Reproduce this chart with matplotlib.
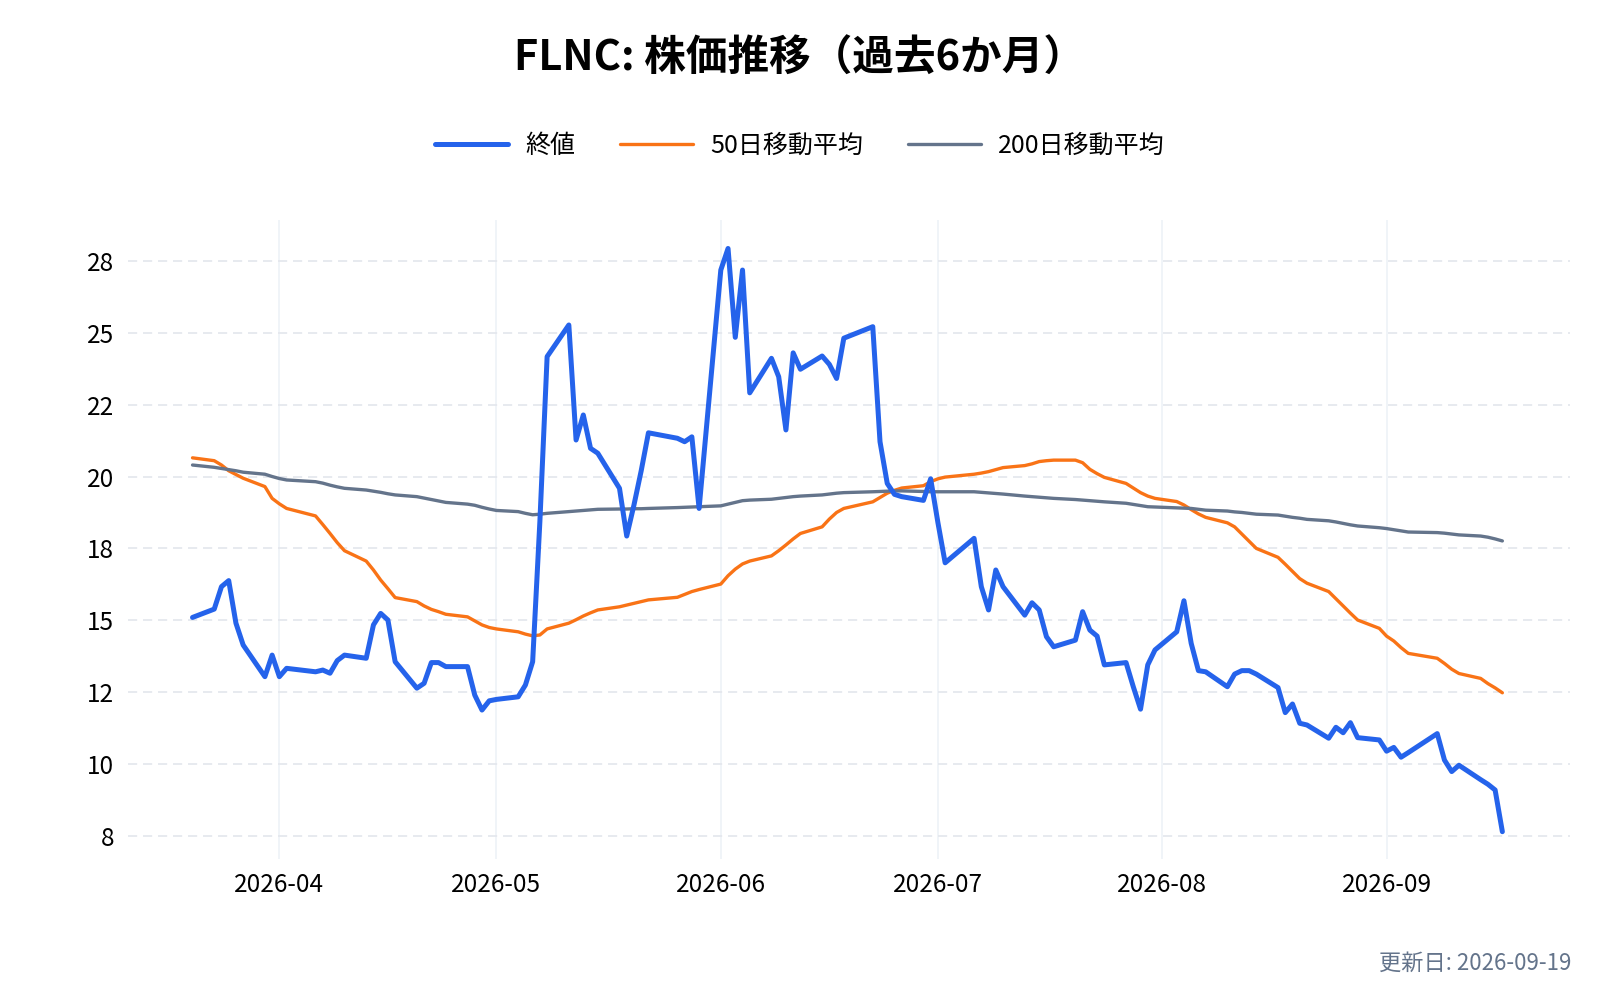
import pandas as pd
import matplotlib
matplotlib.use("Agg")
import matplotlib.pyplot as plt
import matplotlib.dates as mdates
from matplotlib.ticker import FixedLocator, FuncFormatter

plt.rcParams["font.family"] = ["Noto Sans CJK JP", "DejaVu Sans"]

TITLE = "FLNC: 株価推移（過去6か月）"
UPDATED = "更新日: 2026-09-19"
LABELS = ["終値", "50日移動平均", "200日移動平均"]
COLORS = ["#2563EB", "#F97316", "#64748B"]

# US trading days shown in the chart
HOLIDAYS = ["2026-04-03", "2026-05-25", "2026-06-19", "2026-07-03", "2026-09-07"]
dates = pd.bdate_range("2026-03-20", "2026-09-17")
dates = dates[~dates.isin(pd.to_datetime(HOLIDAYS))]

close = [
    # Mar
    15.10, 15.39, 16.17, 16.38, 14.90, 14.14, 13.04, 13.79,
    # Apr
    13.04, 13.33, 13.21, 13.27, 13.16, 13.60, 13.79, 13.68, 14.84, 15.24,
    15.01, 13.56, 12.64, 12.81, 13.53, 13.53, 13.39, 13.39, 12.40, 11.88, 12.20,
    # May
    12.25, 12.34, 12.75, 13.56, 18.44, 24.17, 25.27, 21.27, 22.14, 20.98,
    20.81, 19.59, 17.93, 19.01, 20.20, 21.52, 21.33, 21.21, 21.38, 18.89,
    # Jun
    27.18, 27.93, 24.84, 27.18, 22.91, 24.11, 23.47, 21.62, 24.30, 23.73,
    24.19, 23.90, 23.41, 24.81, 25.21, 21.21, 19.76, 19.38, 19.30, 19.17, 19.92,
    # Jul
    18.40, 17.00, 17.85, 16.17, 15.36, 16.75, 16.17, 15.18, 15.61, 15.36,
    14.43, 14.08, 14.31, 15.30, 14.66, 14.45, 13.45, 13.53, 12.69, 11.91,
    13.45, 13.97,
    # Aug
    14.60, 15.68, 14.20, 13.25, 13.21, 12.69, 13.13, 13.25, 13.25, 13.13,
    12.66, 11.79, 12.09, 11.42, 11.36, 10.90, 11.28, 11.09, 11.44, 10.92, 10.84,
    # Sep
    10.45, 10.58, 10.24, 10.40, 11.06, 10.14, 9.74, 9.96, 9.46, 9.30, 9.10, 7.65,
]

ma50 = [
    20.65, 20.55, 20.40, 20.20, 20.07, 19.94, 19.65, 19.24,
    19.05, 18.89, 18.63, 18.33, 18.02, 17.70, 17.42, 17.06, 16.75, 16.40,
    16.10, 15.79, 15.65, 15.50, 15.38, 15.30, 15.21, 15.12, 14.98, 14.84, 14.75,
    14.70, 14.60, 14.52, 14.46, 14.49, 14.70, 14.90, 15.02, 15.15, 15.26,
    15.36, 15.47, 15.53, 15.59, 15.65, 15.71, 15.80, 15.90, 16.00, 16.07,
    16.26, 16.55, 16.78, 16.96, 17.06, 17.24, 17.42, 17.62, 17.83, 18.02,
    18.25, 18.52, 18.75, 18.89, 19.12, 19.27, 19.42, 19.52, 19.60, 19.68, 19.82,
    19.92, 19.98, 20.08, 20.12, 20.17, 20.24, 20.31, 20.38, 20.44, 20.52,
    20.55, 20.57, 20.57, 20.48, 20.25, 20.10, 19.97, 19.76, 19.60, 19.44,
    19.32, 19.24,
    19.13, 19.01, 18.85, 18.70, 18.58, 18.39, 18.25, 18.00, 17.75, 17.50,
    17.19, 16.95, 16.70, 16.45, 16.29, 16.00, 15.75, 15.50, 15.25, 15.01, 14.72,
    14.45, 14.28, 14.05, 13.85, 13.68, 13.50, 13.30, 13.15, 12.98, 12.80, 12.65, 12.48,
]

ma200 = [
    20.40, 20.32, 20.28, 20.24, 20.20, 20.15, 20.08, 20.00,
    19.93, 19.88, 19.82, 19.77, 19.70, 19.64, 19.59, 19.53, 19.49, 19.45,
    19.40, 19.36, 19.30, 19.25, 19.20, 19.15, 19.10, 19.04, 19.00, 18.93, 18.87,
    18.82, 18.78, 18.72, 18.67, 18.69, 18.72, 18.78, 18.80, 18.82, 18.84,
    18.86, 18.87, 18.87, 18.88, 18.88, 18.89, 18.92, 18.93, 18.94, 18.95,
    18.98, 19.04, 19.10, 19.16, 19.18, 19.21, 19.24, 19.27, 19.30, 19.32,
    19.36, 19.39, 19.42, 19.44, 19.47, 19.48, 19.49, 19.50, 19.50, 19.48, 19.47,
    19.47, 19.47, 19.47, 19.45, 19.43, 19.41, 19.39, 19.32, 19.30, 19.28,
    19.26, 19.24, 19.20, 19.18, 19.16, 19.14, 19.12, 19.07, 19.03, 18.99,
    18.95, 18.94,
    18.91, 18.90, 18.89, 18.86, 18.83, 18.80, 18.77, 18.75, 18.72, 18.69,
    18.66, 18.62, 18.58, 18.55, 18.51, 18.46, 18.42, 18.37, 18.32, 18.28, 18.22,
    18.19, 18.15, 18.11, 18.07, 18.05, 18.03, 18.00, 17.97, 17.93, 17.89, 17.83, 17.76,
]

Y_TICKS = [7.5, 10, 12.5, 15, 17.5, 20, 22.5, 25, 27.5]

fig = plt.figure(figsize=(16, 10), dpi=100)
ax = fig.add_axes([0.08, 0.141, 0.901, 0.639])

line_kw = dict(solid_joinstyle="round", solid_capstyle="round")
ax.plot(dates, close, color=COLORS[0], lw=3.6, label=LABELS[0], zorder=4, **line_kw)
ax.plot(dates, ma50, color=COLORS[1], lw=2.4, label=LABELS[1], zorder=3, **line_kw)
ax.plot(dates, ma200, color=COLORS[2], lw=2.4, label=LABELS[2], zorder=3, **line_kw)

ax.set_xlim(pd.Timestamp("2026-03-11 02:00"), pd.Timestamp("2026-09-26 07:00"))
ax.set_ylim(6.70, 28.92)

ax.xaxis.set_major_locator(mdates.MonthLocator())
ax.xaxis.set_major_formatter(mdates.DateFormatter("%Y-%m"))
ax.yaxis.set_major_locator(FixedLocator(Y_TICKS))
ax.yaxis.set_major_formatter(FuncFormatter(lambda v, p: f"{v:.0f}"))

for s in ax.spines.values():
    s.set_visible(False)
ax.tick_params(axis="both", length=0, labelsize=17.5, colors="#000000")
ax.tick_params(axis="x", pad=9)
ax.tick_params(axis="y", pad=10)

ax.grid(axis="y", color="#E3E6EC", lw=1.2, dashes=(5.5, 3.5))
ax.grid(axis="x", color="#EEF2F7", lw=1.2)
ax.set_axisbelow(True)

fig.text(0.5, 0.941, TITLE, ha="center", va="center", fontsize=30,
         fontweight="bold", color="#000000")

fig.legend(loc="center", bbox_to_anchor=(0.5, 0.854), ncol=3, frameon=False,
           fontsize=18, handlelength=2.9, handletextpad=0.7, columnspacing=1.8)

fig.text(0.982, 0.037, UPDATED, ha="right", va="center", fontsize=16,
         color="#64748B")

fig.savefig("out.png", dpi=100, facecolor="white")
